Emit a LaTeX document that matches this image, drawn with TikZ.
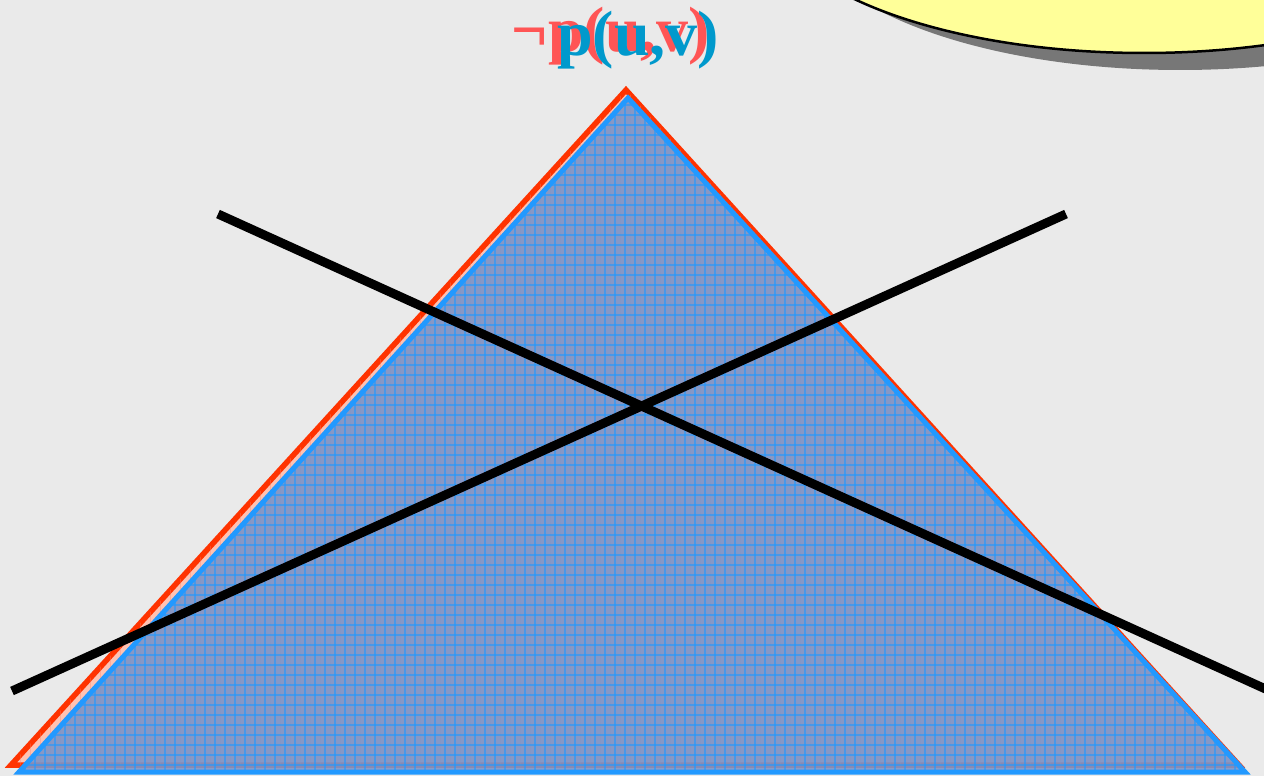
\documentclass[tikz,border=0pt]{standalone}
\usepackage{fontspec}
\setmainfont{Liberation Serif}
\usepackage{xcolor}
\usepackage{tikz}
\usetikzlibrary{positioning}
\definecolor{paper}{HTML}{EAEAEA}
\definecolor{redline}{HTML}{FF3300}
\definecolor{redtext}{HTML}{FF5555}
\definecolor{blueline}{HTML}{2299FF}
\definecolor{bluetext}{HTML}{0099CC}
\definecolor{bluefill}{HTML}{7C94C8}
\definecolor{note}{HTML}{FFFF99}
\definecolor{noteshadow}{HTML}{777777}

\begin{document}
\begin{tikzpicture}[
  x=1pt, y=-1pt,
  ttl/.style={font=\fontsize{64}{64}\selectfont\bfseries, inner sep=0pt, anchor=base},
  redtri/.style={draw=redline, line width=5.5, line join=miter},
  bluetri/.style={draw=blueline, line width=5, line join=miter},
  gridblue/.style={draw=blueline, line width=1.1, opacity=0.6},
  gridred/.style={draw=redline!60, line width=1, opacity=0.35},
  cross/.style={draw=black, line width=9}
]
\useasboundingbox (0,0) rectangle (1264,776);
\clip (0,0) rectangle (1264,776);
\fill[paper] (0,0) rectangle (1264,776);

% corners of the two triangles
\coordinate (rtop)   at (626,90);
\coordinate (rleft)  at (11,765);
\coordinate (rright) at (1239,765);
\coordinate (btop)   at (628,98);
\coordinate (bleft)  at (19,772);
\coordinate (bright) at (1245,772);

% red triangle, under the blue one
\draw[redtri, fill=redline!30] (rtop) -- (rleft) -- (rright) -- cycle;
\begin{scope}
  \clip (rtop) -- (rleft) -- (rright) -- cycle;
  \draw[gridred, step=10] (0,0) grid (1264,776);
\end{scope}

% blue triangle with its grid
\fill[bluefill, opacity=0.9] (btop) -- (bleft) -- (bright) -- cycle;
\begin{scope}
  \clip (btop) -- (bleft) -- (bright) -- cycle;
  \foreach \gx in {5,15,...,1255} {
    \draw[gridblue] (\gx,0) -- (\gx,776);
  }
  \foreach \gy in {5,15,...,775} {
    \draw[gridblue] (0,\gy) -- (1264,\gy);
  }
\end{scope}
\draw[bluetri] (btop) -- (bleft) -- (bright) -- cycle;

% the two crossing lines
\coordinate (a1) at (218,214);
\coordinate (a2) at (1270,691);
\coordinate (b1) at (12,691);
\coordinate (b2) at (1066,214);
\draw[cross] (a1) -- (a2);
\draw[cross] (b1) -- (b2);

% title with its shadow
\node[ttl, text=redtext]  (titleshadow) at (611,52) {¬p(u,v)};
\node[ttl, text=bluetext] (title) at ([shift={(9,4)}]titleshadow.base) {\phantom{¬}p(u,v)};

% yellow note, cut by the top edge
\fill[noteshadow] (1180,-83) ellipse [x radius=380, y radius=153];
\draw[fill=note, line width=2.5] (1144,-100) ellipse [x radius=380, y radius=153];
\end{tikzpicture}
\end{document}
